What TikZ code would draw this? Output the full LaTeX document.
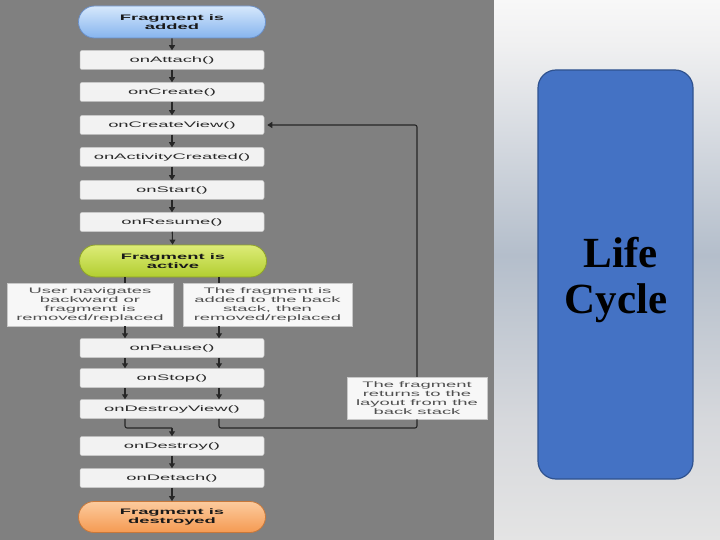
\documentclass[tikz,border=0pt]{standalone}
\usepackage{fontspec}
\setmainfont{Liberation Serif}
\newfontfamily\boxfont[FakeStretch=2.3]{Liberation Sans}
\usetikzlibrary{arrows.meta,shapes.misc}
\definecolor{leftbg}{HTML}{808080}
\definecolor{pTop}{HTML}{F8F8F8}
\definecolor{pUp}{HTML}{F0F0F1}
\definecolor{pMid}{HTML}{B4BECB}
\definecolor{pLow}{HTML}{D6D8DC}
\definecolor{pBot}{HTML}{E4E4E4}
\definecolor{lcfill}{HTML}{4472C4}
\definecolor{lcline}{HTML}{2F528F}
\definecolor{boxfill}{HTML}{F2F2F2}
\definecolor{boxline}{HTML}{C8C8C8}
\definecolor{boxtext}{HTML}{2A2A2A}
\definecolor{notetext}{HTML}{505050}
\definecolor{arrowc}{HTML}{262626}
\definecolor{bluetop}{HTML}{D6E8FC}
\definecolor{bluebot}{HTML}{86B4EE}
\definecolor{blueline}{HTML}{6A8FC8}
\definecolor{greentop}{HTML}{DDEC78}
\definecolor{greenbot}{HTML}{B2CE30}
\definecolor{greenline}{HTML}{8FA428}
\definecolor{orangetop}{HTML}{FCCB9E}
\definecolor{orangebot}{HTML}{F59A52}
\definecolor{orangeline}{HTML}{C8783A}
\tikzset{
  stepbox/.style={draw=boxline, line width=0.5pt, fill=boxfill, rounded corners=2pt,
    minimum width=184pt, minimum height=19pt, inner sep=0pt,
    font=\boxfont\fontsize{8}{9}\selectfont, text=boxtext},
  state/.style={rounded rectangle, line width=0.8pt, minimum width=187pt, minimum height=32pt,
    inner sep=0pt, align=center, text=black!90,
    font=\boxfont\bfseries\fontsize{8}{8.3}\selectfont},
  note/.style={draw=boxline, line width=0.5pt, fill=white!97!black, inner sep=0pt, align=center,
    font=\boxfont\fontsize{8}{9}\selectfont, text=notetext},
  flow/.style={line width=1.1pt, draw=arrowc, -{Triangle[length=5pt,width=6pt]}},
  link/.style={line width=1.1pt, draw=arrowc, rounded corners=2pt}
}
\begin{document}
\begin{tikzpicture}[x=1pt,y=-1pt]
\useasboundingbox (0,0) rectangle (720,540);
% backgrounds
\fill[leftbg] (0,0) rectangle (494,540);
\shade[top color=pTop, bottom color=pUp] (494,0) rectangle (720,45);
\shade[top color=pUp, bottom color=pMid] (494,45) rectangle (720,255);
\shade[top color=pMid, bottom color=pLow] (494,255) rectangle (720,420);
\shade[top color=pLow, bottom color=pBot] (494,420) rectangle (720,540);
% life cycle panel
\draw[fill=lcfill, draw=lcline, line width=1.2pt, rounded corners=18pt] (538,70) rectangle (693,479);
\node[anchor=base, font=\bfseries\fontsize{43}{46}\selectfont, inner sep=0pt] (lifeA) at (621,267) {Life};
\node[anchor=base, font=\bfseries\fontsize{43}{46}\selectfont, inner sep=0pt] (lifeB) at (616,313) {Cycle};
% flowchart nodes
\node[state, draw=blueline, top color=bluetop, bottom color=bluebot] (added) at (172,22) {Fragment is\\added};
\node[stepbox] (attach) at (172,60) {onAttach()};
\node[stepbox] (create) at (172,92) {onCreate()};
\node[stepbox] (cview) at (172,125) {onCreateView()};
\node[stepbox] (acreated) at (172,157) {onActivityCreated()};
\node[stepbox] (start) at (172,190) {onStart()};
\node[stepbox] (resume) at (172,222) {onResume()};
\node[state, draw=greenline, top color=greentop, bottom color=greenbot] (active) at (173,261) {Fragment is\\active};
\node[note, minimum width=166pt, minimum height=43pt] (note1) at (90,304.5) {User navigates\\backward or\\fragment is\\removed/replaced};
\node[note, minimum width=169pt, minimum height=43pt] (note2) at (267.5,304.5) {The fragment is\\added to the back\\stack, then\\removed/replaced};
\node[stepbox] (pause) at (172,348) {onPause()};
\node[stepbox] (stop) at (172,378) {onStop()};
\node[stepbox] (dview) at (172,409) {onDestroyView()};
\node[stepbox] (destroy) at (172,446) {onDestroy()};
\node[stepbox] (detach) at (172,478) {onDetach()};
\node[state, minimum height=31pt, draw=orangeline, top color=orangetop, bottom color=orangebot] (destroyed) at (172,517) {Fragment is\\destroyed};
\node[note, minimum width=140pt, minimum height=42pt] (note3) at (417,398) {The fragment\\returns to the\\layout from the\\back stack};
% helper coordinates
\coordinate (cL) at (125,0);
\coordinate (cR) at (219,0);
\coordinate (j) at (172,428);
% connectors
\draw[flow] (added) -- (attach);
\draw[flow] (attach) -- (create);
\draw[flow] (create) -- (cview);
\draw[flow] (cview) -- (acreated);
\draw[flow] (acreated) -- (start);
\draw[flow] (start) -- (resume);
\draw[flow] (resume) -- (active);
\draw[link] (active.south -| cL) -- (note1.north -| cL);
\draw[link] (active.south -| cR) -- (note2.north -| cR);
\draw[flow] (note1.south -| cL) -- (pause.north -| cL);
\draw[flow] (note2.south -| cR) -- (pause.north -| cR);
\draw[flow] (pause.south -| cL) -- (stop.north -| cL);
\draw[flow] (pause.south -| cR) -- (stop.north -| cR);
\draw[flow] (stop.south -| cL) -- (dview.north -| cL);
\draw[flow] (stop.south -| cR) -- (dview.north -| cR);
\draw[link] (dview.south -| cL) |- (j);
\draw[flow] (j) -- (destroy);
\draw[link] (dview.south -| cR) |- (j -| note3.south) -- (note3.south);
\draw[flow, rounded corners=2pt, shorten >=3pt] (note3.north) |- (cview.east);
\draw[flow] (destroy) -- (detach);
\draw[flow] (detach) -- (destroyed);
\end{tikzpicture}
\end{document}
